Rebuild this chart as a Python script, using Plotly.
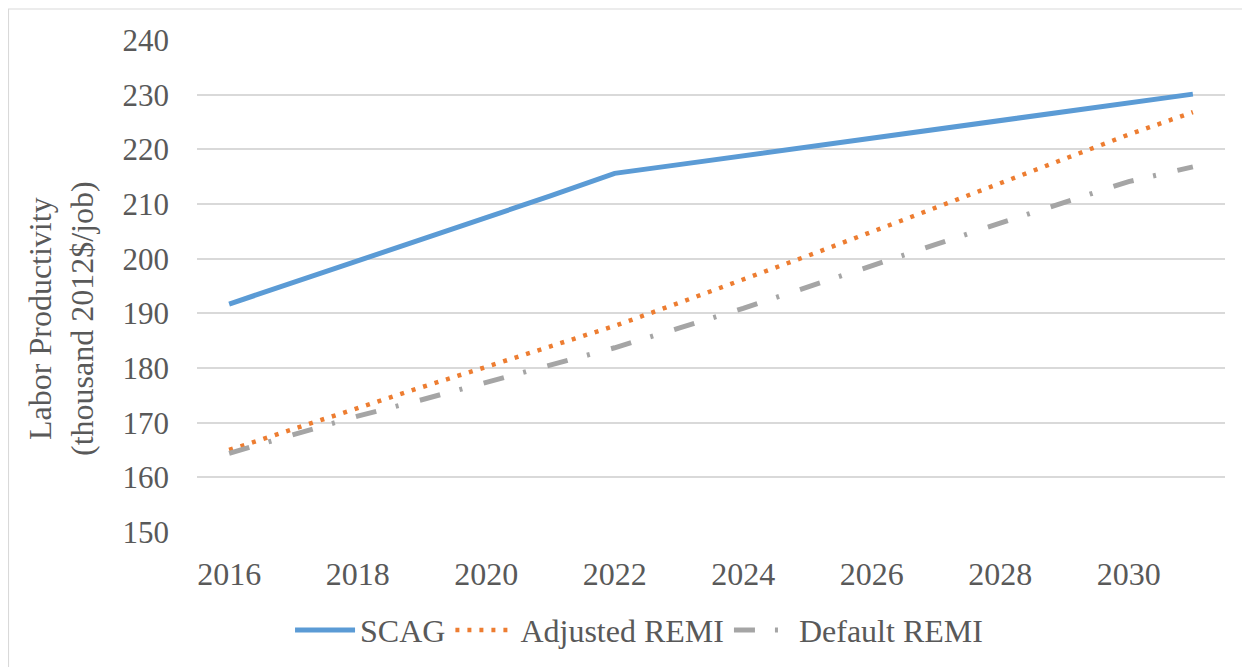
import plotly.graph_objects as go

years = [str(y) for y in range(2016, 2032)]
scag = [191.7, 195.6, 199.6, 203.5, 207.5, 211.5, 215.6, 217.2, 218.8, 220.4,
        222.0, 223.6, 225.2, 226.8, 228.4, 230.1]
adjusted_remi = [165.0, 168.9, 172.8, 176.5, 180.2, 183.9, 187.7, 191.9, 196.1,
                 200.5, 204.9, 209.3, 213.8, 218.3, 222.7, 226.8]
default_remi = [164.4, 167.8, 171.2, 174.2, 177.3, 180.5, 183.7, 187.3, 190.9,
                194.8, 198.8, 202.6, 206.5, 210.3, 214.1, 216.8]
tick_years = [str(y) for y in range(2016, 2032, 2)]
y_ticks = list(range(150, 241, 10))

FONT = "Liberation Serif, Times New Roman, serif"
TXT = "#595959"

fig = go.Figure()
fig.add_trace(go.Scatter(x=years, y=scag, name="SCAG", mode="lines",
                         line=dict(color="#5B9BD5", width=5)))
fig.add_trace(go.Scatter(x=years, y=adjusted_remi, name="Adjusted REMI", mode="lines",
                         line=dict(color="#ED7D31", width=4.5, dash="4px,8px")))
fig.add_trace(go.Scatter(x=years, y=default_remi, name="Default REMI", mode="lines",
                         line=dict(color="#A5A5A5", width=5, dash="21px,20px,3px,22px")))

fig.update_layout(
    width=1242, height=659,
    margin=dict(l=189, r=25, t=32, b=135, autoexpand=False),
    paper_bgcolor="white", plot_bgcolor="white",
    font=dict(family=FONT, color=TXT, size=32),
    showlegend=True,
    legend=dict(orientation="h", x=0.43, xanchor="center", yref="container",
                y=0.056, yanchor="middle",
                font=dict(size=32, color=TXT, family=FONT), itemwidth=60),
    xaxis=dict(type="category", tickmode="array", tickvals=tick_years, ticktext=tick_years,
               range=[-0.5, len(years) - 0.5], automargin=False,
               showgrid=False, showline=False, zeroline=False, ticks="",
               tickfont=dict(size=32, color=TXT, family=FONT), ticklabelstandoff=20),
    yaxis=dict(range=[150, 240], tickvals=y_ticks, showgrid=True, gridcolor="#D9D9D9",
               gridwidth=1.5, zeroline=False, showline=False, ticks="", automargin=False,
               tickfont=dict(size=31, color=TXT, family=FONT), ticklabelstandoff=27),
)

fig.add_annotation(text="Labor Productivity<br>(thousand 2012$/job)", xref="paper", yref="paper",
                   x=-0.1323, y=0.435, xanchor="center", yanchor="middle", textangle=-90,
                   showarrow=False, font=dict(size=32, color=TXT, family=FONT))

fig.add_shape(type="rect", xref="paper", yref="paper",
              x0=-0.1834, x1=1.0214, y0=-0.29, y1=1.063,
              line=dict(color="#D9D9D9", width=1.2), fillcolor="rgba(0,0,0,0)", layer="below")

fig.write_html("out.html")
